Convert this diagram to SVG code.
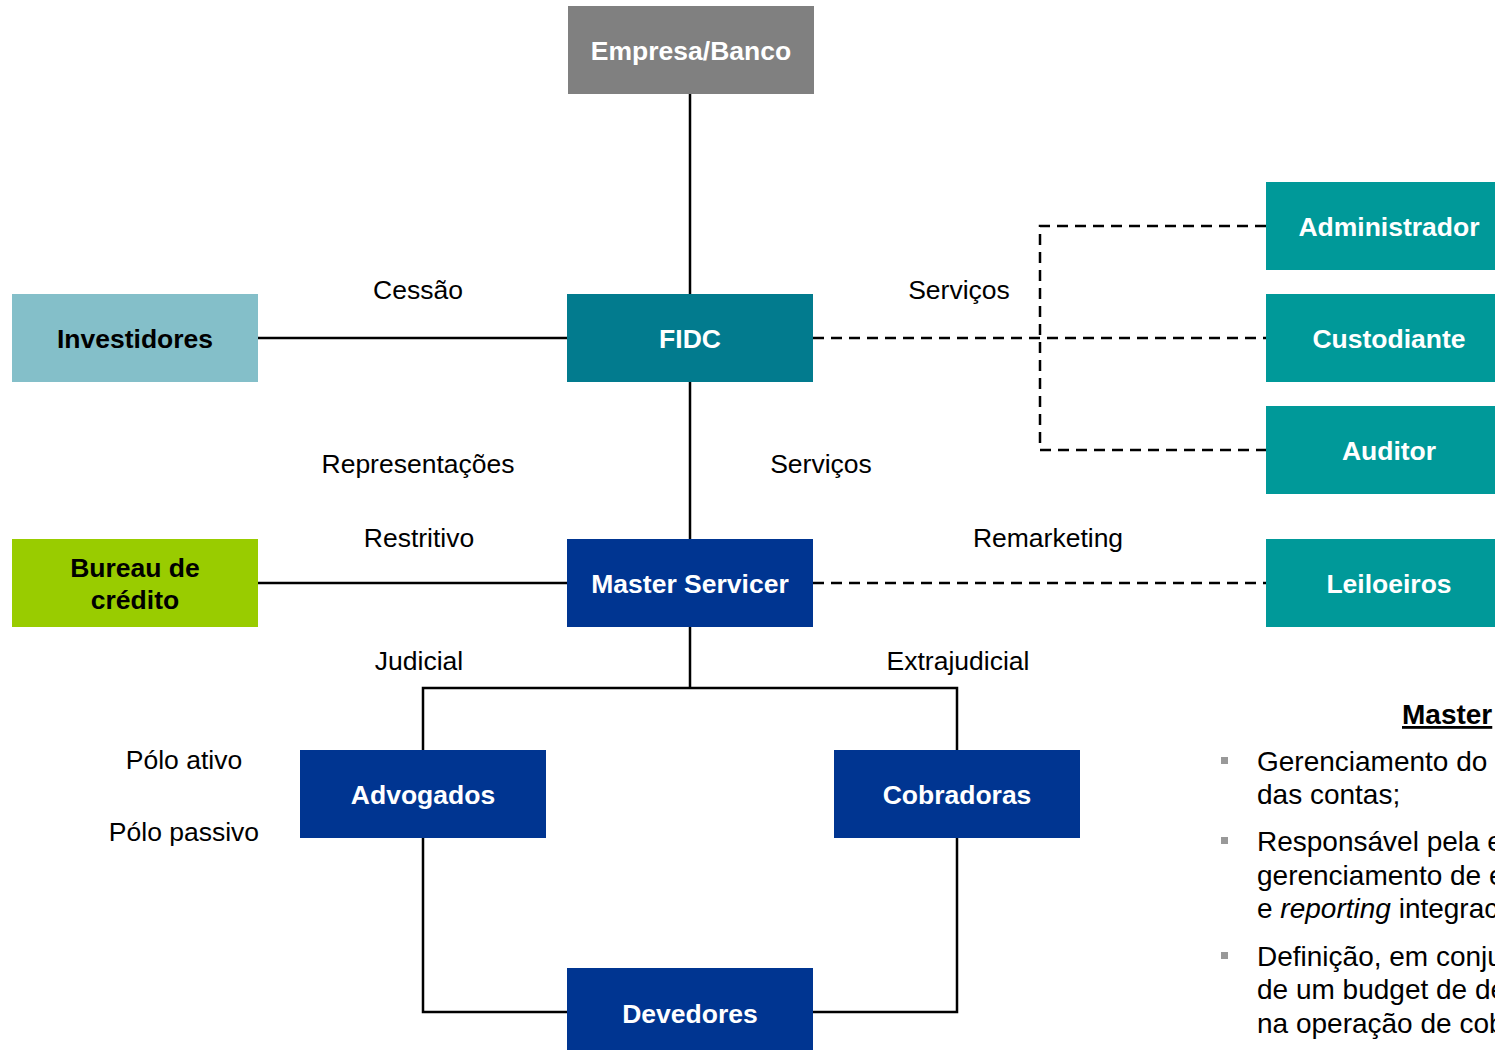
<svg xmlns="http://www.w3.org/2000/svg" width="1495" height="1050" viewBox="0 0 1495 1050">
<style>
.box text{font-family:"Liberation Sans",Arial,sans-serif;font-weight:bold;font-size:26.5px;text-anchor:middle;fill:#fff}
.lbl{font-family:"Liberation Sans",Arial,sans-serif;font-size:26.5px;text-anchor:middle;fill:#000}
.solid{stroke:#000;stroke-width:2.5;fill:none}
.dash{stroke:#000;stroke-width:2.5;fill:none;stroke-dasharray:11 7}
.body{font-family:"Liberation Sans",Arial,sans-serif;font-size:28px;fill:#000}
.bul{fill:#999}
</style>
<rect width="1495" height="1050" fill="#fff"/>
<g id="connectors">
<path class="solid" d="M690 94V294M690 382V539M258 338H567M258 583H567M690 627V688M423 750V688H957V750M423 838V1012H567M957 838V1012H813"/>
<path class="dash" d="M813 338H1266M1266 226H1040V450H1266M813 583H1266"/>
</g>
<g id="empresa" class="box"><rect x="568" y="6" width="246" height="88" fill="#808080"/><text x="691" y="60">Empresa/Banco</text></g>
<g id="fidc" class="box"><rect x="567" y="294" width="246" height="88" fill="#027B8E"/><text x="690" y="348">FIDC</text></g>
<g id="investidores" class="box"><rect x="12" y="294" width="246" height="88" fill="#84BFC9"/><text x="135" y="348" style="fill:#000">Investidores</text></g>
<g id="administrador" class="box"><rect x="1266" y="182" width="246" height="88" fill="#009999"/><text x="1389" y="236">Administrador</text></g>
<g id="custodiante" class="box"><rect x="1266" y="294" width="246" height="88" fill="#009999"/><text x="1389" y="348">Custodiante</text></g>
<g id="auditor" class="box"><rect x="1266" y="406" width="246" height="88" fill="#009999"/><text x="1389" y="460">Auditor</text></g>
<g id="leiloeiros" class="box"><rect x="1266" y="539" width="246" height="88" fill="#009999"/><text x="1389" y="593">Leiloeiros</text></g>
<g id="bureau" class="box"><rect x="12" y="539" width="246" height="88" fill="#99CC00"/><text x="135" y="577" style="fill:#000">Bureau de</text><text x="135" y="609" style="fill:#000">crédito</text></g>
<g id="master" class="box"><rect x="567" y="539" width="246" height="88" fill="#003591"/><text x="690" y="593">Master Servicer</text></g>
<g id="advogados" class="box"><rect x="300" y="750" width="246" height="88" fill="#003591"/><text x="423" y="804">Advogados</text></g>
<g id="cobradoras" class="box"><rect x="834" y="750" width="246" height="88" fill="#003591"/><text x="957" y="804">Cobradoras</text></g>
<g id="devedores" class="box"><rect x="567" y="968" width="246" height="82" fill="#003591"/><text x="690" y="1023">Devedores</text></g>
<g id="labels">
<text class="lbl" x="418" y="299">Cessão</text>
<text class="lbl" x="959" y="299">Serviços</text>
<text class="lbl" x="418" y="473">Representações</text>
<text class="lbl" x="821" y="473">Serviços</text>
<text class="lbl" x="419" y="547">Restritivo</text>
<text class="lbl" x="1048" y="547">Remarketing</text>
<text class="lbl" x="419" y="670">Judicial</text>
<text class="lbl" x="958" y="670">Extrajudicial</text>
<text class="lbl" x="184" y="769">Pólo ativo</text>
<text class="lbl" x="184" y="841">Pólo passivo</text>
</g>
<g id="notes">
<text class="body" x="1402" y="724" font-weight="bold" text-decoration="underline">Master</text>
<rect class="bul" x="1221" y="757" width="7" height="7"/>
<text class="body" x="1257" y="771">Gerenciamento do</text>
<text class="body" x="1257" y="804">das contas;</text>
<rect class="bul" x="1221" y="837" width="7" height="7"/>
<text class="body" x="1257" y="851">Responsável pela e</text>
<text class="body" x="1257" y="885">gerenciamento de e</text>
<text class="body" x="1257" y="918">e <tspan font-style="italic">reporting</tspan> integrac</text>
<rect class="bul" x="1221" y="952" width="7" height="7"/>
<text class="body" x="1257" y="966">Definição, em conju</text>
<text class="body" x="1257" y="999">de um budget de de</text>
<text class="body" x="1257" y="1033">na operação de cob</text>
</g>
</svg>
